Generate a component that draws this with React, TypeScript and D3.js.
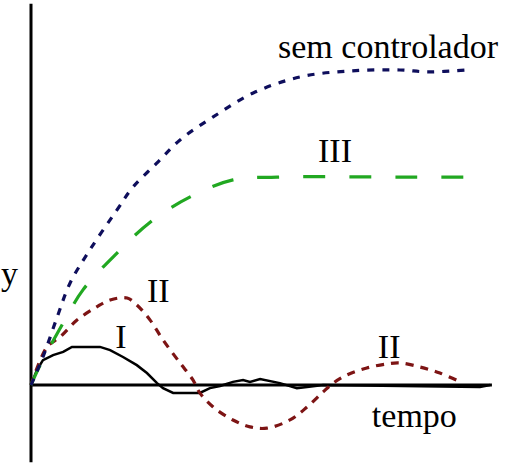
import * as d3 from "d3";
import { useEffect, useRef } from "react";

// sem controlador (blue, dotted)
const tSem = [0, 0.26, 0.57, 0.85, 1.28, 1.87, 2.22, 2.74, 3.24, 3.96, 4.83, 5.85, 6.93, 8.02, 8.61, 9.48];
const ySem = [0, 0.089, 0.216, 0.324, 0.429, 0.556, 0.629, 0.705, 0.778, 0.851, 0.927, 0.978, 0.997, 1.0, 0.994, 1.0];

// III (green, dashed)
const tIII = [0, 0.2, 0.7, 1.13, 1.87, 2.59, 3.46, 4.39, 5.35, 8.02, 9.54];
const yIII = [0, 0.063, 0.197, 0.302, 0.419, 0.517, 0.597, 0.651, 0.66, 0.66, 0.66];

// II (red, dotted)
const tII = [0, 0.35, 0.63, 1.0, 1.43, 1.72, 2.09, 2.3, 2.59, 2.87, 3.24, 3.52, 3.67, 3.96, 4.39, 4.76, 5.13, 5.63, 6.0, 6.35, 6.57, 6.87, 7.3, 7.74, 8.02, 8.46, 8.89, 9.33];
const yII = [0, 0.121, 0.152, 0.206, 0.248, 0.27, 0.276, 0.254, 0.206, 0.143, 0.07, 0.016, -0.025, -0.07, -0.111, -0.133, -0.137, -0.111, -0.07, -0.022, 0.006, 0.032, 0.054, 0.067, 0.07, 0.057, 0.038, 0.01];

// I (black, solid)
const tI = [0, 0.13, 0.26, 0.48, 0.7, 0.89, 1.5, 1.72, 2.0, 2.3, 2.52, 2.74, 2.87, 3.09, 3.67, 3.89, 4.11, 4.39, 4.61, 4.76, 4.98, 5.41, 5.78, 6.0, 6.35, 9.76, 9.98];
const yI = [0, 0.048, 0.079, 0.095, 0.105, 0.121, 0.121, 0.111, 0.089, 0.063, 0.038, 0.006, -0.01, -0.025, -0.025, -0.01, -0.003, 0.01, 0.016, 0.01, 0.019, 0.006, -0.01, -0.006, 0, -0.006, 0];

const labels = ["sem controlador", "III", "II", "I", "II", "tempo", "y"];

const w = 511;
const h = 464;
const x = d3.scaleLinear().domain([0, 10]).range([31, 491]);
const y = d3.scaleLinear().domain([0, 1]).range([385, 70]);

// label anchors in data units
const pos: [number, number][] = [
  [5.37, 1.038],
  [6.24, 0.708],
  [2.52, 0.263],
  [1.83, 0.117],
  [7.54, 0.086],
  [7.41, -0.133],
  [-0.65, 0.317],
];

const App = () => {
  const gRef = useRef<SVGGElement | null>(null);

  useEffect(() => {
    if (!gRef.current) return;
    const g = d3.select(gRef.current);
    g.selectAll("*").remove();

    const zip = (ts: number[], vs: number[]) => ts.map((t, i) => [t, vs[i]] as [number, number]);

    const smooth = d3.line<[number, number]>()
      .x(d => x(d[0]))
      .y(d => y(d[1]))
      .curve(d3.curveCatmullRom.alpha(0.5));

    const jagged = d3.line<[number, number]>()
      .x(d => x(d[0]))
      .y(d => y(d[1]));

    // axes
    g.append("line")
      .attr("x1", x(0)).attr("x2", x(0))
      .attr("y1", y(1.21)).attr("y2", y(-0.245))
      .attr("stroke", "#000").attr("stroke-width", 3);
    g.append("line")
      .attr("x1", x(0)).attr("x2", x(10.02))
      .attr("y1", y(0)).attr("y2", y(0))
      .attr("stroke", "#000").attr("stroke-width", 3);

    g.append("path")
      .attr("d", jagged(zip(tI, yI)))
      .attr("fill", "none")
      .attr("stroke", "#000")
      .attr("stroke-width", 2.5);

    g.append("path")
      .attr("d", smooth(zip(tII, yII)))
      .attr("fill", "none")
      .attr("stroke", "#7d1414")
      .attr("stroke-width", 3.2)
      .attr("stroke-dasharray", "8,7");

    g.append("path")
      .attr("d", smooth(zip(tIII, yIII)))
      .attr("fill", "none")
      .attr("stroke", "#21a821")
      .attr("stroke-width", 3.2)
      .attr("stroke-dasharray", "22,24");

    g.append("path")
      .attr("d", smooth(zip(tSem, ySem)))
      .attr("fill", "none")
      .attr("stroke", "#0e0e5c")
      .attr("stroke-width", 3.2)
      .attr("stroke-dasharray", "7,8");
  }, []);

  return (
    <svg
      width={w}
      height={h}
      style={{ position: "absolute", left: 0, top: 0, background: "#fff" }}
    >
      <g ref={gRef}></g>
      {labels.map((d, i) => (
        <text
          key={i}
          x={x(pos[i][0])}
          y={y(pos[i][1])}
          fontFamily="Liberation Serif"
          fontSize={34}
          fill="#000"
        >
          {d}
        </text>
      ))}
    </svg>
  );
};

export default App;
